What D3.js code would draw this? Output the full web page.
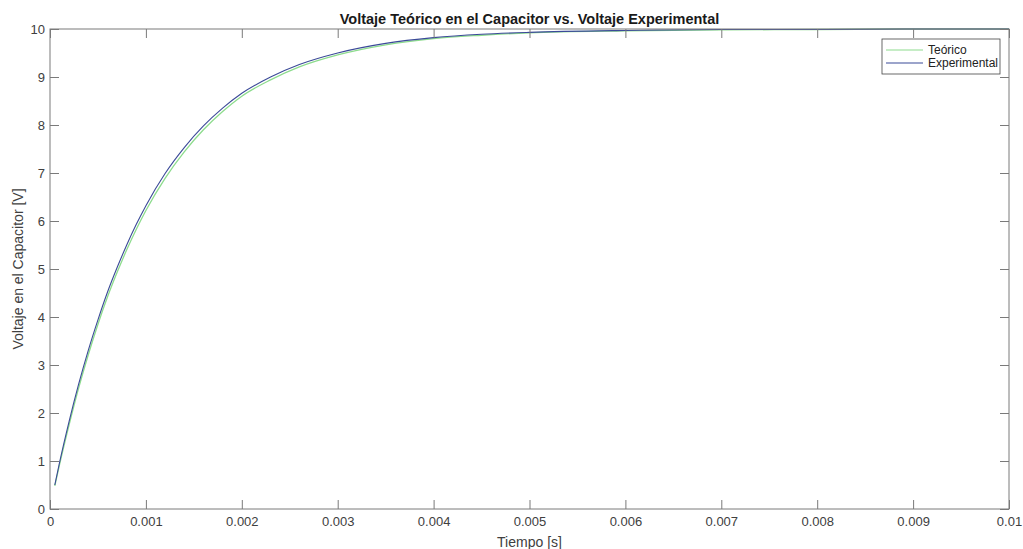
<!DOCTYPE html>
<html>
<head>
<meta charset="utf-8">
<script src="https://cdn.jsdelivr.net/npm/d3@7"></script>
<style>
  body { margin: 0; background: #fff; }
  text { font-family: "Liberation Sans", Arial, sans-serif; }
</style>
</head>
<body>
<script>
const width = 1023;
const height = 549;

// tiempo [s]
const tiempo = [0.00005, 0.0001, 0.0002, 0.0003, 0.0004, 0.0005, 0.0006, 0.0007, 0.0008, 0.0009,
    0.001, 0.0012, 0.0014, 0.0016, 0.0018, 0.002, 0.0023, 0.0026, 0.003, 0.0035,
    0.004, 0.0045, 0.005, 0.006, 0.007, 0.008, 0.009, 0.01];
const teorico = [0.48, 0.93, 1.76, 2.53, 3.22, 3.85, 4.42, 4.93, 5.40, 5.83,
    6.22, 6.89, 7.44, 7.90, 8.28, 8.60, 8.94, 9.21, 9.46, 9.67,
    9.80, 9.87, 9.92, 9.96, 9.98, 9.99, 10.0, 10.0];
const experimental = [0.50, 0.97, 1.83, 2.61, 3.31, 3.94, 4.52, 5.03, 5.50, 5.93,
    6.32, 6.99, 7.53, 7.98, 8.35, 8.66, 9.00, 9.26, 9.50, 9.70,
    9.82, 9.89, 9.93, 9.97, 9.99, 9.99, 10.0, 10.0];
const xTicks = [0, 0.001, 0.002, 0.003, 0.004, 0.005, 0.006, 0.007, 0.008, 0.009, 0.01];
const yTicks = [0, 1, 2, 3, 4, 5, 6, 7, 8, 9, 10];

const margin = { left: 50, right: 1009, top: 29, bottom: 509 };

const svg = d3.select('body').append('svg')
    .attr('width', width)
    .attr('height', height);

const x = d3.scaleLinear().domain([0, 0.01]).range([margin.left, margin.right]);
const y = d3.scaleLinear().domain([0, 10]).range([margin.bottom, margin.top]);

// curves
const line = d3.line()
    .x(d => x(d[0]))
    .y(d => y(d[1]))
    .curve(d3.curveMonotoneX);

svg.append("path")
    .datum(tiempo.map((t, i) => [t, teorico[i]]))
    .attr("d", line)
    .attr("fill", "none")
    .attr("stroke", "#8ddc8d")
    .attr("stroke-width", 1.3);

svg.append("path")
    .datum(tiempo.map((t, i) => [t, experimental[i]]))
    .attr("d", line)
    .attr("fill", "none")
    .attr("stroke", "#3b4a98")
    .attr("stroke-width", 1.1);

// axes (ticks inward, mirrored on top/right)
const tickLen = 9;
const axisColor = "#7a7a7a";

svg.append("g")
    .attr("transform", `translate(0,${margin.bottom})`)
    .call(d3.axisBottom(x).tickValues(xTicks).tickSize(-tickLen).tickPadding(8)
        .tickFormat(d => d === 0 ? "0" : d3.format("~g")(d)))
    .call(g => g.select(".domain").remove());

svg.append("g")
    .attr("transform", `translate(0,${margin.top})`)
    .call(d3.axisTop(x).tickValues(xTicks).tickSize(-tickLen).tickFormat(""))
    .call(g => g.select(".domain").remove());

svg.append("g")
    .attr("transform", `translate(${margin.left},0)`)
    .call(d3.axisLeft(y).tickValues(yTicks).tickSize(-tickLen).tickPadding(5))
    .call(g => g.select(".domain").remove());

svg.append("g")
    .attr("transform", `translate(${margin.right},0)`)
    .call(d3.axisRight(y).tickValues(yTicks).tickSize(-tickLen).tickFormat(""))
    .call(g => g.select(".domain").remove());

svg.selectAll(".tick line").attr("stroke", axisColor);
svg.selectAll(".tick text")
    .attr("fill", "#404040")
    .attr("font-size", "13px");

svg.append("rect")
    .attr("x", margin.left)
    .attr("y", margin.top)
    .attr("width", margin.right - margin.left)
    .attr("height", margin.bottom - margin.top)
    .attr("fill", "none")
    .attr("stroke", axisColor)
    .attr("stroke-width", 1);

// labels
svg.append("text")
    .attr("x", (margin.left + margin.right) / 2)
    .attr("y", 24)
    .attr("text-anchor", "middle")
    .attr("font-size", "14.5px")
    .attr("font-weight", "bold")
    .attr("fill", "#1a1a1a")
    .text("Voltaje Teórico en el Capacitor vs. Voltaje Experimental");

svg.append("text")
    .attr("x", (margin.left + margin.right) / 2)
    .attr("y", 547)
    .attr("text-anchor", "middle")
    .attr("font-size", "14px")
    .attr("fill", "#404040")
    .text("Tiempo [s]");

svg.append("text")
    .attr("transform", `translate(23,${(margin.top + margin.bottom) / 2}) rotate(-90)`)
    .attr("text-anchor", "middle")
    .attr("font-size", "14px")
    .attr("fill", "#404040")
    .text("Voltaje en el Capacitor [V]");

// legend
const legend = svg.append("g").attr("transform", "translate(882,39)");
legend.append("rect")
    .attr("width", 118)
    .attr("height", 35)
    .attr("fill", "#fff")
    .attr("stroke", "#444")
    .attr("stroke-width", 0.8);

const entries = [["Teórico", "#8ddc8d"], ["Experimental", "#3b4a98"]];
entries.forEach((e, i) => {
    const cy = 11 + i * 13;
    legend.append("line")
        .attr("x1", 4).attr("x2", 41)
        .attr("y1", cy).attr("y2", cy)
        .attr("stroke", e[1])
        .attr("stroke-width", 1.2);
    legend.append("text")
        .attr("x", 46)
        .attr("y", cy + 4)
        .attr("font-size", "12px")
        .attr("fill", "#222")
        .text(e[0]);
});
</script>
</body>
</html>
